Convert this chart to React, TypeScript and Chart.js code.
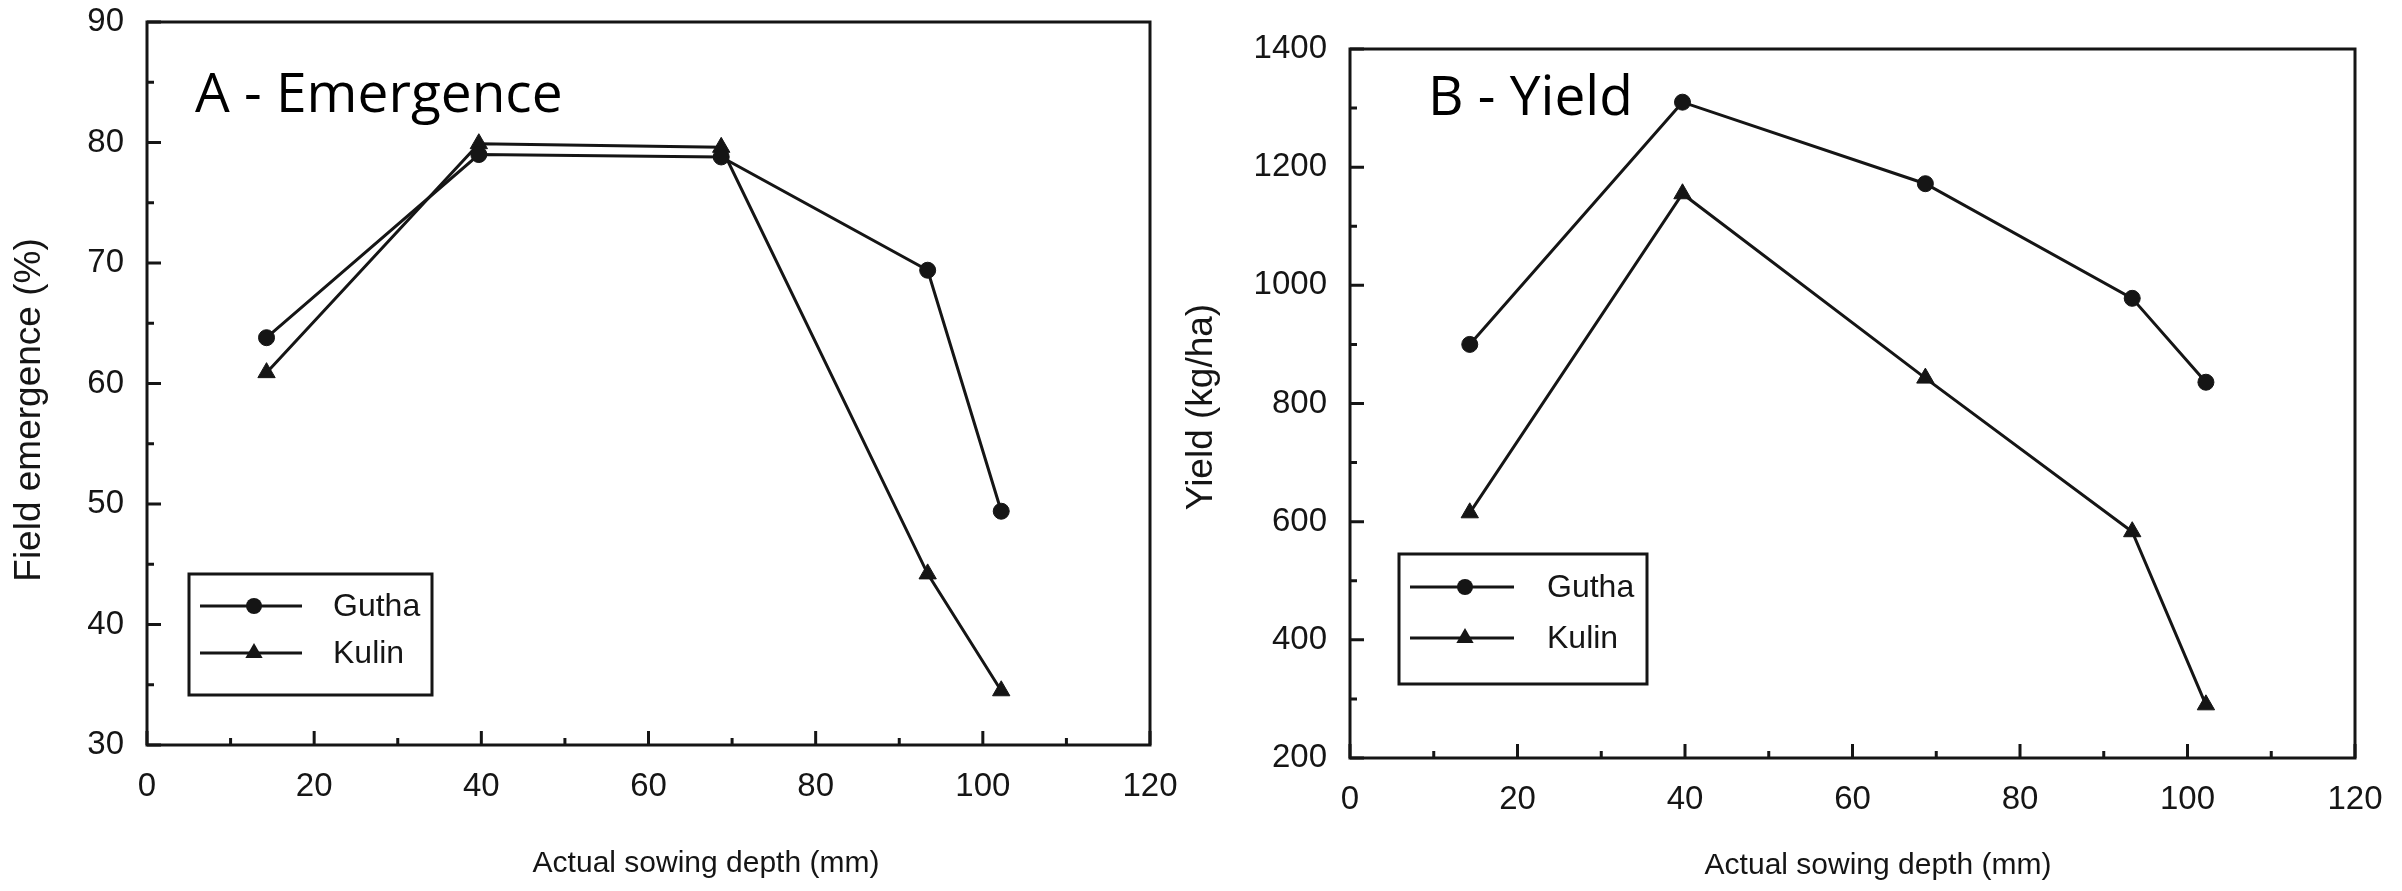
import React, { useEffect, useRef } from "react";
import { Chart, registerables } from "chart.js";

Chart.register(...registerables);

// ---- data ----
const depthMm = [14.3, 39.7, 68.7, 93.4, 102.2];
const seriesLabels = ["Gutha", "Kulin"];
const emergenceGutha = [63.8, 79.0, 78.8, 69.4, 49.4];
const emergenceKulin = [60.9, 79.9, 79.6, 44.2, 34.5];
const yieldGutha = [900, 1310, 1172, 978, 836];
const yieldKulin = [615, 1155, 843, 583, 290];
const xTicks = [0, 20, 40, 60, 80, 100, 120];
const emergenceTicks = [30, 40, 50, 60, 70, 80, 90];
const yieldTicks = [200, 400, 600, 800, 1000, 1200, 1400];
const panelTitles = ["A - Emergence", "B - Yield"];
const xTitle = "Actual sowing depth (mm)";
const yTitles = ["Field emergence (%)", "Yield (kg/ha)"];

const INK = "#151515";
const TICK_FONT = '"Liberation Sans Narrow", "Liberation Sans", Arial, sans-serif';

function drawMarker(ctx: CanvasRenderingContext2D, style: string, x: number, y: number, r: number) {
  ctx.beginPath();
  if (style === "triangle") {
    let rad = 0;
    ctx.moveTo(x + Math.sin(rad) * r, y - Math.cos(rad) * r);
    rad += (2 * Math.PI) / 3;
    ctx.lineTo(x + Math.sin(rad) * r, y - Math.cos(rad) * r);
    rad += (2 * Math.PI) / 3;
    ctx.lineTo(x + Math.sin(rad) * r, y - Math.cos(rad) * r);
    ctx.closePath();
  } else {
    ctx.arc(x, y, r, 0, Math.PI * 2);
  }
  ctx.fill();
}

const decorPlugin = {
  id: "decor",
  afterDraw(chart: any, _args: any, opts: any) {
    const ctx: CanvasRenderingContext2D = chart.ctx;
    const { left, right, top, bottom } = chart.chartArea;
    const xs = chart.scales.x;
    const ys = chart.scales.y;
    ctx.save();
    ctx.strokeStyle = INK;
    ctx.fillStyle = INK;
    ctx.lineWidth = 3;
    // frame
    ctx.strokeRect(left, top, right - left, bottom - top);
    // inward ticks (major + minor)
    const xv = xs.ticks.map((t: any) => t.value);
    const yv = ys.ticks.map((t: any) => t.value);
    ctx.beginPath();
    xv.forEach((v: number, i: number) => {
      const px = xs.getPixelForValue(v);
      ctx.moveTo(px, bottom);
      ctx.lineTo(px, bottom - 14);
      if (i < xv.length - 1) {
        const mx = xs.getPixelForValue((v + xv[i + 1]) / 2);
        ctx.moveTo(mx, bottom);
        ctx.lineTo(mx, bottom - 7);
      }
    });
    yv.forEach((v: number, i: number) => {
      const py = ys.getPixelForValue(v);
      ctx.moveTo(left, py);
      ctx.lineTo(left + 14, py);
      if (i < yv.length - 1) {
        const my = ys.getPixelForValue((v + yv[i + 1]) / 2);
        ctx.moveTo(left, my);
        ctx.lineTo(left + 7, my);
      }
    });
    ctx.stroke();

    // panel title
    ctx.font = '55px "Open Sans", "Noto Sans", sans-serif';
    ctx.textAlign = "left";
    ctx.textBaseline = "alphabetic";
    ctx.fillStyle = "#000";
    ctx.fillText(opts.title, opts.titleX, opts.titleY);

    // axis titles
    ctx.fillStyle = INK;
    ctx.font = '30px "Liberation Sans", Arial, sans-serif';
    ctx.textAlign = "center";
    ctx.textBaseline = "middle";
    ctx.fillText(opts.xTitle, opts.xTitleX, opts.xTitleY);
    ctx.save();
    ctx.translate(opts.yTitleX, opts.yTitleY);
    ctx.rotate(-Math.PI / 2);
    ctx.font = '37px "Liberation Sans", Arial, sans-serif';
    ctx.fillText(opts.yTitle, 0, 0);
    ctx.restore();

    // legend
    const lg = opts.legend;
    ctx.lineWidth = 3;
    ctx.strokeStyle = INK;
    ctx.strokeRect(lg.x, lg.y, lg.w, lg.h);
    chart.data.datasets.forEach((ds: any, i: number) => {
      const ry = lg.rows[i];
      ctx.beginPath();
      ctx.moveTo(lg.lineX0, ry);
      ctx.lineTo(lg.lineX1, ry);
      ctx.stroke();
      drawMarker(ctx, ds.pointStyle, lg.markerX, ry, ds.pointStyle === "triangle" ? 10 : 8);
      ctx.font = "32px " + TICK_FONT;
      ctx.textAlign = "left";
      ctx.textBaseline = "middle";
      ctx.fillText(ds.label, lg.textX, ry + 1);
    });
    ctx.restore();
  },
};

function makeConfig(p: any): any {
  const mk = (label: string, vals: number[], style: string) => ({
    label,
    data: depthMm.map((x, i) => ({ x, y: vals[i] })),
    borderColor: INK,
    backgroundColor: INK,
    borderWidth: 3,
    pointStyle: style,
    pointRadius: style === "triangle" ? 10 : 8,
    pointBackgroundColor: INK,
    pointBorderColor: INK,
    pointBorderWidth: 1,
    tension: 0,
    fill: false,
  });
  return {
    type: "line",
    data: {
      datasets: [mk(seriesLabels[0], p.gutha, "circle"), mk(seriesLabels[1], p.kulin, "triangle")],
    },
    options: {
      animation: false,
      responsive: false,
      devicePixelRatio: 1,
      layout: { padding: { left: 0, top: p.top, right: p.right, bottom: 0 } },
      plugins: {
        legend: { display: false },
        tooltip: { enabled: false },
        decor: p.decor,
      },
      scales: {
        x: {
          type: "linear",
          min: xTicks[0],
          max: xTicks[xTicks.length - 1],
          ticks: {
            stepSize: xTicks[1] - xTicks[0],
            padding: 22,
            color: INK,
            font: { family: TICK_FONT, size: 33 },
            maxRotation: 0,
            callback: (v: any) => String(v),
          },
          grid: { display: false, drawTicks: false },
          border: { display: false },
          title: { display: false },
          afterFit: (s: any) => {
            s.height = p.xHeight;
            s.paddingLeft = 0;
            s.paddingRight = 0;
          },
        },
        y: {
          type: "linear",
          min: p.yTicks[0],
          max: p.yTicks[p.yTicks.length - 1],
          ticks: {
            stepSize: p.yTicks[1] - p.yTicks[0],
            padding: 23,
            color: INK,
            font: { family: TICK_FONT, size: 33 },
            callback: (v: any) => String(v),
          },
          grid: { display: false, drawTicks: false },
          border: { display: false },
          title: { display: false },
          afterFit: (s: any) => {
            s.width = p.yWidth;
            s.paddingTop = 0;
            s.paddingBottom = 0;
          },
        },
      },
    },
    plugins: [decorPlugin],
  };
}

function Panel({ left, width, params }: { left: number; width: number; params: any }) {
  const ref = useRef<HTMLCanvasElement>(null);
  useEffect(() => {
    const chart = new Chart(ref.current as HTMLCanvasElement, makeConfig(params));
    return () => chart.destroy();
  }, []);
  return (
    <canvas
      ref={ref}
      width={width}
      height={891}
      style={{ position: "absolute", left, top: 0, width, height: 891, display: "block" }}
    />
  );
}

export default function App() {
  const paramsA = {
    gutha: emergenceGutha,
    kulin: emergenceKulin,
    yTicks: emergenceTicks,
    top: 22,
    right: 50,
    yWidth: 147,
    xHeight: 146,
    decor: {
      title: panelTitles[0],
      titleX: 195,
      titleY: 112,
      xTitle,
      xTitleX: 706,
      xTitleY: 864,
      yTitle: yTitles[0],
      yTitleX: 30,
      yTitleY: 410,
      legend: { x: 189, y: 574, w: 243, h: 121, rows: [606, 653], lineX0: 200, lineX1: 302, markerX: 254, textX: 333 },
    },
  };
  const paramsB = {
    gutha: yieldGutha,
    kulin: yieldKulin,
    yTicks: yieldTicks,
    top: 49,
    right: 47,
    yWidth: 180,
    xHeight: 133,
    decor: {
      title: panelTitles[1],
      titleX: 258,
      titleY: 115,
      xTitle,
      xTitleX: 708,
      xTitleY: 866,
      yTitle: yTitles[1],
      yTitleX: 32,
      yTitleY: 407,
      legend: { x: 229, y: 554, w: 248, h: 130, rows: [587, 638], lineX0: 240, lineX1: 344, markerX: 295, textX: 377 },
    },
  };
  return (
    <div style={{ position: "fixed", left: 0, top: 0, width: 2402, height: 891, background: "#fff", overflow: "hidden" }}>
      <Panel left={0} width={1200} params={paramsA} />
      <Panel left={1170} width={1232} params={paramsB} />
    </div>
  );
}
